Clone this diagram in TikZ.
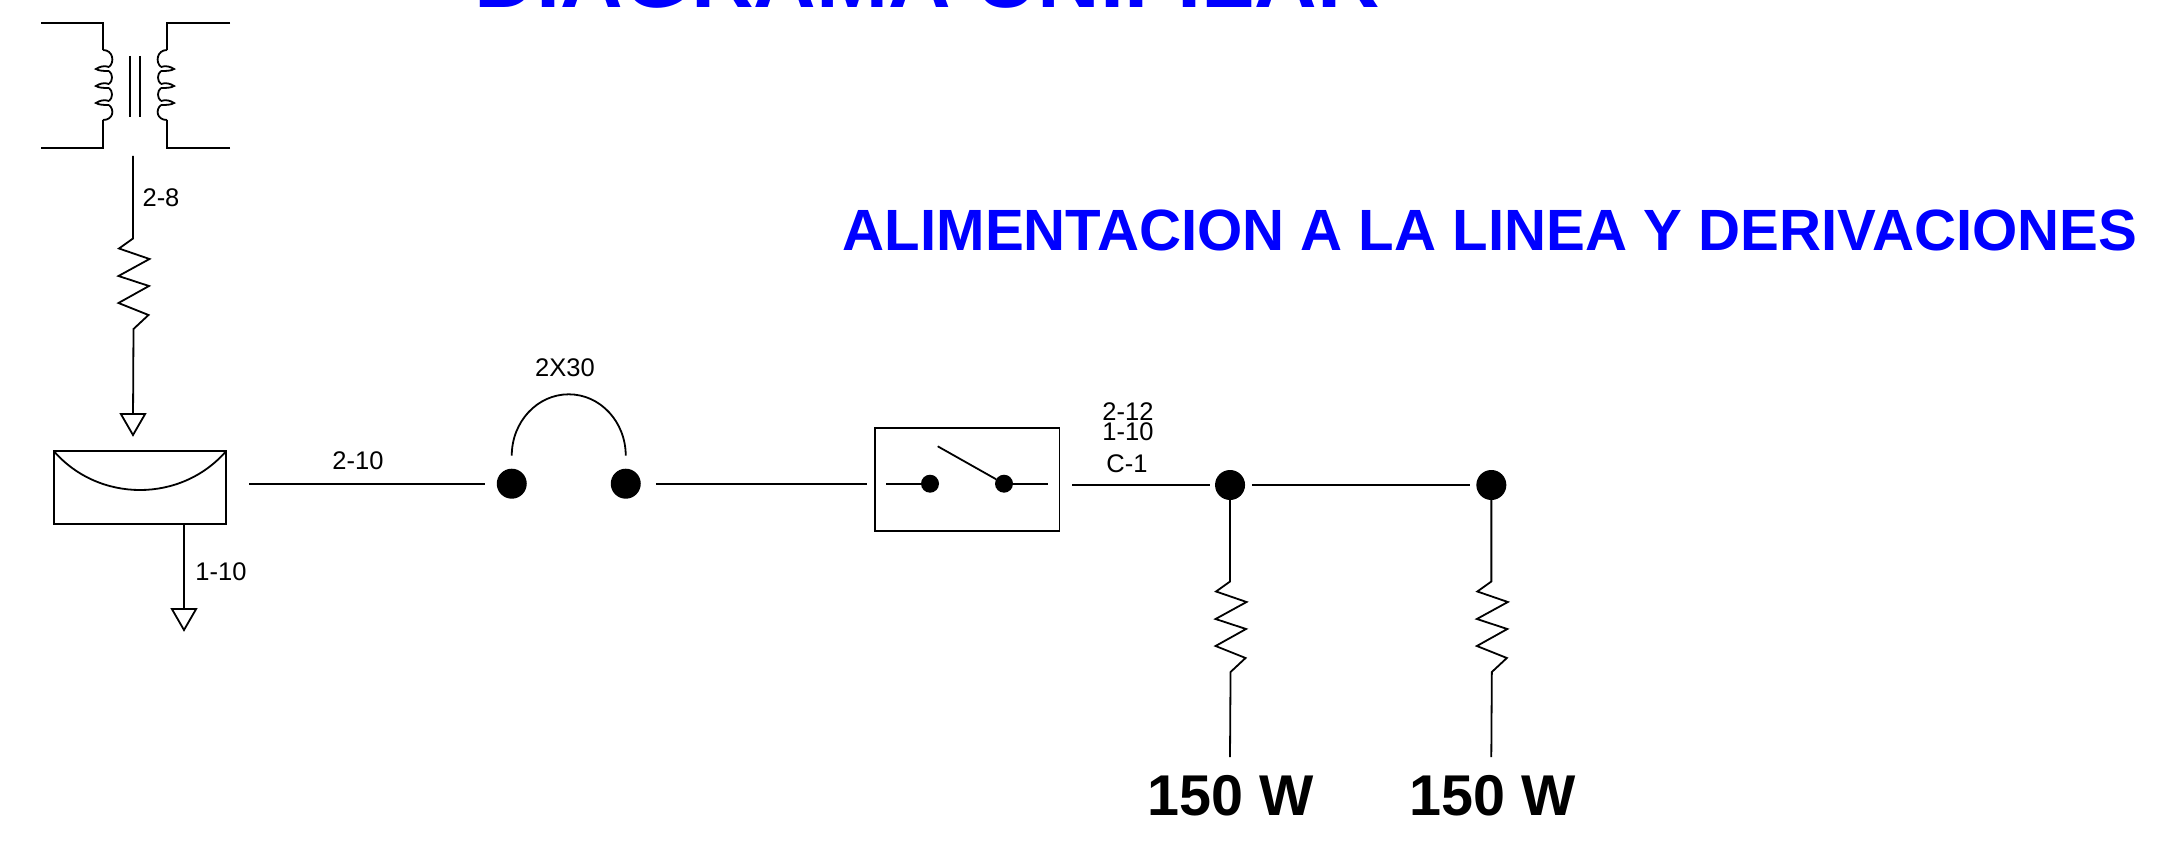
\documentclass[tikz,border=0pt]{standalone}
\usepackage{fontspec}
\setmainfont{Liberation Sans}
\usetikzlibrary{positioning,calc,shapes.geometric}
\definecolor{titleblue}{RGB}{0,0,255}
\tikzstyle{single line}=[
    x=1pt,y=-1pt,line width=1.8pt,
    every node/.style={inner sep=0pt,outer sep=0pt},
]
\tikzstyle{dot}=[circle,fill=black,minimum size=30pt]
\tikzstyle{smalldot}=[circle,fill=black,minimum size=18pt]
\tikzstyle{ground}=[regular polygon,regular polygon sides=3,shape border rotate=180,draw,minimum size=28pt]
\tikzstyle{caption}=[font=\fontsize{25.5}{25.5}\selectfont]
\tikzstyle{power}=[font=\fontsize{57.5}{57.5}\selectfont\bfseries]
\tikzstyle{heading}=[text=titleblue,font=\fontsize{58.2}{58.2}\selectfont\bfseries]
\newcommand{\zigzag}{-- ++(-14,10) -- ++(30.5,10.5) -- ++(-31,17) -- ++(30.5,10) -- ++(-30.5,17) -- ++(30,12) -- ++(-15,14)}
\newcommand{\winding}[1]{
    \begin{scope}[shift={(#1)}]
        \draw (0,0) .. controls (10,0) and (12,12) .. (6,17);
        \foreach \k in {0,17,34} {
            \draw (6,17+\k) .. controls (1,15+\k) and (-4,17+\k) .. (-7,19+\k)
                .. controls (-4,21+\k) and (1,21+\k) .. (6,21+\k);
        }
        \foreach \k in {0,17} {
            \draw (6,21+\k) .. controls (10,24+\k) and (10,31+\k) .. (6,34+\k);
        }
        \draw (6,55) .. controls (12,60) and (10,70) .. (0,70);
    \end{scope}
}

\begin{document}
\begin{tikzpicture}[single line]
        \clip (0,0) rectangle (2180,856);

        \node[heading,anchor=base,font=\fontsize{86.7}{86.7}\selectfont\bfseries] (maintitle) at (927,8) {DIAGRAMA UNIFILAR};
        \node[heading] (subtitle) at (1490,230) {ALIMENTACION A LA LINEA Y DERIVACIONES};

        % transformer
        \coordinate (trafoleft) at (103,50);
        \coordinate (traforight) at (167,50);
        \draw (41,23) -| (trafoleft);
        \draw (230,23) -| (traforight);
        \draw (41,148) -| (103,120);
        \draw (230,148) -| (167,120);
        \winding{trafoleft}
        \begin{scope}[xscale=-1,xshift=-270pt]
            \winding{103,50}
        \end{scope}
        \draw (130,56) -- (130,117);
        \draw (140,56) -- (140,117);

        % main chain
        \node[draw,minimum width=172pt,minimum height=73pt] (meter) at (140,487.8) {};
        \node[dot,right=270.75pt of meter,yshift=4.1pt] (fuseL) {};
        \node[dot,right=84pt of fuseL] (fuseR) {};
        \node[draw,minimum width=184.5pt,minimum height=103.4pt,right=234.2pt of fuseR,yshift=4.2pt] (switchbox) {};
        \node[dot,right=155.6pt of switchbox,yshift=-5.5pt] (junctionA) {};
        \node[dot,right=231.3pt of junctionA] (junctionB) {};

        % switch inside
        \node[smalldot] (contactL) at (930,483.7) {};
        \node[smalldot] (contactR) at (1004,483.7) {};
        \coordinate (leadL) at (886,483.7);
        \coordinate (leadR) at (1048,483.7);
        \coordinate (lever) at (937.7,446.3);

        % supply and grounds
        \coordinate (supply) at (133,156);
        \coordinate (supplyzig) at (133,238.5);
        \node[ground] (groundA) at (133,421) {};
        \node[ground] (groundB) at (184,616) {};
        \draw (supply) -- (supplyzig) \zigzag -- (groundA);

        % loads
        \node[power] (loadA) at (1231,796) {150 W};
        \node[power] (loadB) at (1492.3,796) {150 W};
        \coordinate (endA) at (1230,757);
        \coordinate (endB) at (1491.3,757);
        \draw (junctionA) -- ++(0,96.5) \zigzag -- (endA);
        \draw (junctionB) -- ++(0,96.5) \zigzag -- (endB);

        \path
            (groundB |- meter.south) edge[] (groundB)
            (fuseL -| meter.east) edge[shorten <=23.3pt, shorten >=11.7pt] (fuseL)
            (fuseR) edge[shorten <=15pt, shorten >=8.3pt] (fuseR -| switchbox.west)
            (junctionA -| switchbox.east) edge[shorten <=13pt, shorten >=5pt] (junctionA)
            (junctionA) edge[shorten <=6.7pt, shorten >=6.3pt] (junctionB)
            (leadL) edge[] (contactL)
            (contactR) edge[] (leadR)
            (lever) edge[] (contactR)
        ;

        % box curves
        \draw (meter.north west) .. controls +(45,51.6) and +(-45,51.6) .. (meter.north east);
        \draw ($(fuseL)+(0,-28)$) arc[start angle=180,end angle=360,x radius=57,y radius=61.4];

        % labels
        \node[caption] (cable28) at (161,198) {2-8};
        \node[caption] (cable110) at (221,572) {1-10};
        \node[caption] (cable210) at (358,461) {2-10};
        \node[caption] (breaker) at (565,368) {2X30};
        \node[caption] (cable212) at (1128,411.5) {2-12};
        \node[caption] (neutral) at (1128,432) {1-10};
        \node[caption] (circuit) at (1127,464) {C-1};
    \end{tikzpicture}
\end{document}
